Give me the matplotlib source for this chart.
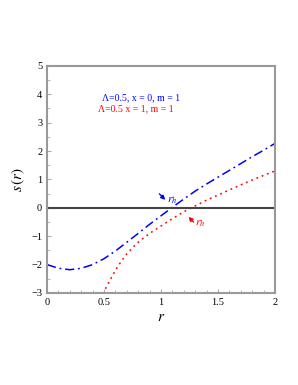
import matplotlib
matplotlib.use('Agg')
import matplotlib.pyplot as plt
from matplotlib.ticker import MultipleLocator

# blue curve: Lambda=0.5, x=0, m=1
r_blue = [0, 0.1, 0.2, 0.3, 0.4, 0.5, 0.6, 0.7, 0.8, 0.9, 1.0,
          1.1, 1.2, 1.3, 1.4, 1.5, 1.6, 1.7, 1.8, 1.9, 2.0]
s_blue = [-2.00, -2.13, -2.18, -2.13, -2.00, -1.79, -1.52, -1.21, -0.90, -0.58, -0.28,
          0.02, 0.31, 0.59, 0.84, 1.08, 1.32, 1.56, 1.80, 2.03, 2.27]

# red curve: Lambda=0.5, x=1, m=1
r_red = [0.49, 0.5, 0.55, 0.6, 0.65, 0.7, 0.75, 0.8, 0.9, 1.0, 1.1,
         1.2, 1.3, 1.4, 1.5, 1.6, 1.7, 1.8, 1.9, 2.0]
s_red = [-3.03, -2.95, -2.56, -2.20, -1.89, -1.62, -1.40, -1.21, -0.90, -0.64, -0.38,
         -0.14, 0.07, 0.27, 0.45, 0.63, 0.81, 0.98, 1.14, 1.30]

label_blue = 'Λ=0.5, x = 0, m = 1'
label_red = 'Λ=0.5 x = 1, m = 1'

plt.rcParams['font.family'] = ['Liberation Serif', 'DejaVu Serif']
plt.rcParams['mathtext.fontset'] = 'stix'

fig = plt.figure(figsize=(2.98, 3.85), dpi=100)
ax = fig.add_axes([0.158, 0.239, 0.765, 0.590])

ax.plot(r_blue, s_blue, color='#0000ff', lw=1.1, linestyle=(0, (6, 2.5, 1.2, 2.5)))
ax.plot(r_red, s_red, color='#ff0000', lw=1.1, linestyle=(0, (1.2, 2.5)))
ax.axhline(0, color='#444444', lw=1.5)

ax.set_xlim(0, 2)
ax.set_ylim(-3, 5)
ax.xaxis.set_minor_locator(MultipleLocator(0.1))
ax.yaxis.set_major_locator(MultipleLocator(1))
ax.yaxis.set_minor_locator(MultipleLocator(0.5))
ax.set_xticks([0, 0.5, 1, 1.5, 2])
ax.set_xticklabels(['0', '0.5', '1', '1.5', '2'])
ax.tick_params(which='both', direction='in', colors='#aaaaaa', labelcolor='black', labelsize=7.5)
ax.tick_params(which='major', length=3)
ax.tick_params(which='minor', length=2)
for sp in ax.spines.values():
    sp.set_color('#999999')
    sp.set_linewidth(1.5)

ax.set_xlabel('$r$', fontsize=11, labelpad=3)
ax.set_ylabel('$s\\,(r)$', fontsize=11, labelpad=3)

ax.text(0.48, 3.8, label_blue, color='#0000ff', fontsize=7)
ax.text(0.445, 3.4, label_red, color='#ff0000', fontsize=7)

arrow_kw = dict(arrowstyle='-|>', lw=1, mutation_scale=6, shrinkA=0, shrinkB=0)
ax.annotate('', xy=(1.037, 0.28), xytext=(0.985, 0.49),
            arrowprops=dict(color='#0000ff', **arrow_kw))
ax.text(1.05, 0.17, '$r_h$', color='#0000ff', fontsize=8.5)
ax.annotate('', xy=(1.24, -0.32), xytext=(1.285, -0.50),
            arrowprops=dict(color='#ff0000', **arrow_kw))
ax.text(1.30, -0.62, '$r_h$', color='#ff0000', fontsize=8.5)

fig.savefig('out.png', dpi=100)
